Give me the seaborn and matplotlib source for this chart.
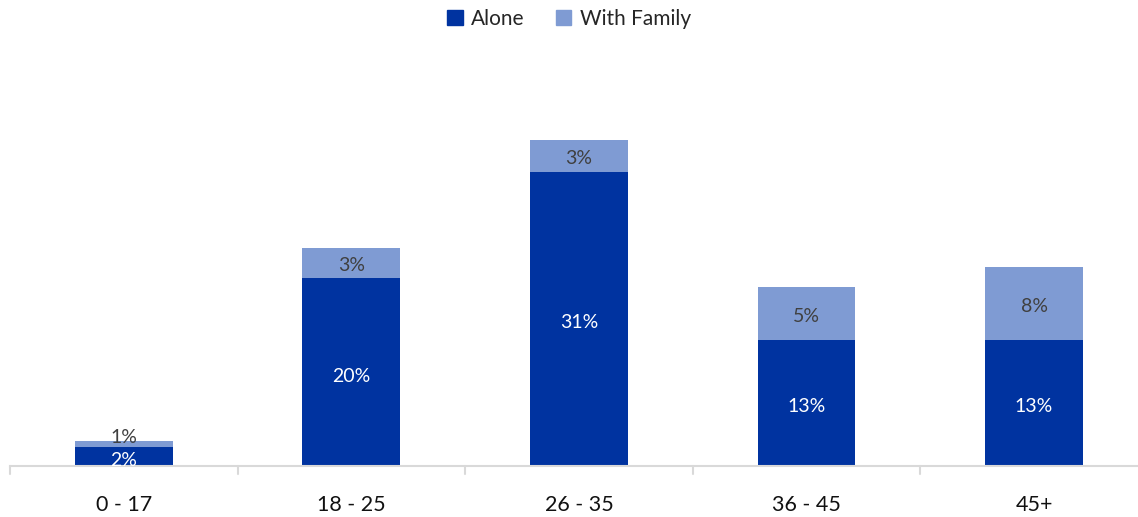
import matplotlib
matplotlib.use("Agg")
import matplotlib.pyplot as plt
import seaborn as sns
import pandas as pd
from matplotlib.patches import Patch

categories = ["0 - 17", "18 - 25", "26 - 35", "36 - 45", "45+"]
alone = [2.0, 19.8, 31.0, 13.3, 13.3]
with_family = [0.6, 3.2, 3.3, 5.5, 7.6]
alone_labels = ["2%", "20%", "31%", "13%", "13%"]
family_labels = ["1%", "3%", "3%", "5%", "8%"]

sns.set_theme(style="white")
plt.rcParams['font.family'] = ['Lato', 'DejaVu Sans']

C_ALONE = "#0033A0"
C_FAM = "#7F9BD3"

df = pd.DataFrame({"cat": categories, "alone": alone, "fam": with_family})
df["total"] = df["alone"] + df["fam"]

fig = plt.figure(figsize=(11.38, 5.17), dpi=100)
ax = fig.add_axes([10/1138, 51/517, 1 - 10/1138, (466-40)/517])

sns.barplot(data=df, x="cat", y="total", color=C_FAM, width=0.43, ax=ax,
            saturation=1, edgecolor="none")
sns.barplot(data=df, x="cat", y="alone", color=C_ALONE, width=0.43, ax=ax,
            saturation=1, edgecolor="none")

LBL = 14
for i in range(len(categories)):
    a = alone[i]; f = with_family[i]
    if f < 1.5:
        ax.annotate(alone_labels[i], (i, a / 2), xytext=(0, -3), textcoords="offset points",
                    ha="center", va="center", color="white", fontsize=LBL)
        ax.annotate(family_labels[i], (i, a + f), xytext=(0, 3), textcoords="offset points",
                    ha="center", va="center", color="#404040", fontsize=LBL)
    else:
        ax.annotate(alone_labels[i], (i, a / 2), xytext=(0, -3), textcoords="offset points",
                    ha="center", va="center", color="white", fontsize=LBL)
        ax.annotate(family_labels[i], (i, a + f / 2), xytext=(0, -2), textcoords="offset points",
                    ha="center", va="center", color="#404040", fontsize=LBL)

ax.set_ylim(0, (466-40)/9.5)
ax.set_xlim(-0.5, 4.457)
ax.set_xlabel("")
ax.set_ylabel("")
ax.set_yticks([])
for s in ["top", "right", "left"]:
    ax.spines[s].set_visible(False)
ax.spines["bottom"].set_color("#D9D9D9")
ax.spines["bottom"].set_linewidth(1.5)

ax.set_xticks(range(len(categories)))
ax.set_xticklabels(categories, fontsize=15.5, color="#111111")
ax.tick_params(axis="x", length=0, pad=21)
# boundary tick marks
for b in [-0.5, 0.5, 1.5, 2.5, 3.5]:
    ax.plot([b, b], [0, -0.85], color="#D9D9D9", lw=1.5, clip_on=False)

handles = [Patch(color=C_ALONE, label="Alone"), Patch(color=C_FAM, label="With Family")]
fig.legend(handles=handles, loc="center", bbox_to_anchor=(0.5, 1 - 19/517), ncol=2,
           frameon=False, fontsize=15, handlelength=0.75, handleheight=0.75,
           handletextpad=0.4, columnspacing=1.5)

fig.savefig("out.png", dpi=100)
